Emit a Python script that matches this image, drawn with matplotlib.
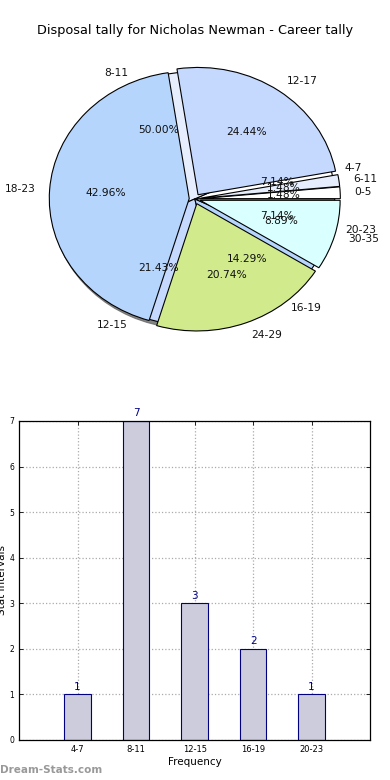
import numpy as np
import matplotlib
matplotlib.use('Agg')
import matplotlib.pyplot as plt

# career tally (outer/top pie)
career_labels = ['0-5', '6-11', '12-17', '18-23', '24-29', '30-35']
career_counts = [2, 2, 33, 58, 28, 12]

# stat intervals (second pie + bar chart)
interval_labels = ['4-7', '8-11', '12-15', '16-19', '20-23']
interval_counts = [1, 7, 3, 2, 1]

slice_colors = ['#ffffff', '#e6eefd', '#c5d8fd', '#b5d5fd', '#d0ea8c', '#d9ffff']
title = 'Disposal tally for Nicholas Newman - Career tally'


def draw_pies(ax):
    wprops = {'edgecolor': 'black', 'linewidth': 0.8}
    tprops = {'fontsize': 7.7, 'color': '#111111'}
    # interval pie sits underneath, only seen through the gaps
    wedges, _, _ = ax.pie(interval_counts, labels=interval_labels,
                          autopct='%1.2f%%',
                          colors=slice_colors[:len(interval_counts)],
                          startangle=0, shadow={'ox': -0.02, 'oy': -0.015,
                                                'color': '#666666',
                                                'alpha': 0.8},
                          wedgeprops=wprops, textprops=tprops)
    ax.pie(career_counts, labels=career_labels, autopct='%1.2f%%',
           colors=slice_colors, startangle=0,
           explode=[0.04] * len(career_counts),
           wedgeprops=wprops, textprops=tprops)
    ax.set_aspect('auto')
    ax.set_xlim(-1.25, 1.25)
    ax.set_ylim(-1.25, 1.25)


def draw_bars(ax):
    pos = np.arange(1, len(interval_counts) + 1)
    ax.bar(pos, interval_counts, width=0.45, color='#ccccdd',
           edgecolor='navy', linewidth=0.8, zorder=2)
    for x, v in zip(pos, interval_counts):
        ax.text(x, v + 0.06, str(v), ha='center', va='bottom',
                color='navy', fontsize=7.5)
    ax.set_xlim(0, len(interval_counts) + 1)
    ax.set_ylim(0, max(interval_counts))
    ax.set_xticks(pos)
    ax.set_xticklabels(interval_labels, fontsize=6)
    ax.set_yticks(range(0, max(interval_counts) + 1))
    ax.tick_params(axis='y', labelsize=5.5)
    ax.tick_params(direction='in', top=True, right=True, length=3, width=0.6)
    ax.grid(True, linestyle=':', color='#aaaaaa', linewidth=0.9)
    ax.set_axisbelow(True)
    ax.set_xlabel('Frequency', fontsize=7.5, labelpad=2)
    ax.set_ylabel('Stat Intervals', fontsize=7.5, labelpad=2)
    for s in ax.spines.values():
        s.set_linewidth(0.9)


fig = plt.figure(figsize=(3.9, 7.8), dpi=100)
ax_pie = fig.add_axes([0.051, 0.541, 0.897, 0.408])
draw_pies(ax_pie)
fig.text(0.5, 0.961, title, ha='center', va='center', fontsize=9.3)

ax_bar = fig.add_axes([0.049, 0.0513, 0.9, 0.409])
draw_bars(ax_bar)

fig.text(0.0, 0.013, 'Dream-Stats.com', ha='left', va='center',
         fontsize=7.5, color='#999999', fontweight='bold')

plt.savefig('out.png', dpi=100)
